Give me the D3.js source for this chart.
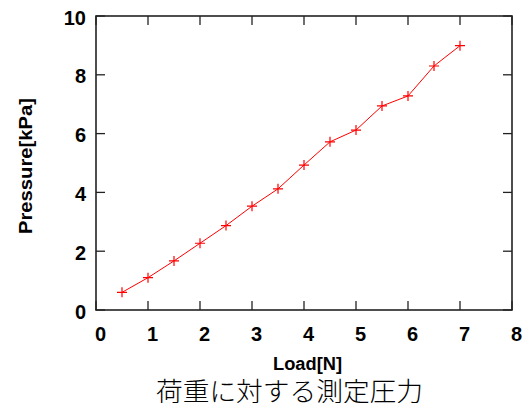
<!DOCTYPE html>
<html><head><meta charset="utf-8">
<script src="https://cdn.jsdelivr.net/npm/d3@7/dist/d3.min.js"></script>
<style>body{margin:0;background:#fff}</style>
</head><body>
<svg id="c" width="523" height="403"></svg>
<script>
const loads = [0.5,1.0,1.5,2.0,2.5,3.0,3.5,4.0,4.5,5.0,5.5,6.0,6.5,7.0];
const pressures = [0.60,1.10,1.67,2.27,2.87,3.53,4.12,4.93,5.72,6.12,6.94,7.28,8.30,8.99];
const xTicks = [0,1,2,3,4,5,6,7,8];
const yTicks = [0,2,4,6,8,10];
const xLabel = "Load[N]";
const yLabel = "Pressure[kPa]";
const title = "荷重に対する測定圧力";

const svg = d3.select("#c");
const L=96, R=512, T=16, B=310;
const x = d3.scaleLinear().domain([0,8]).range([L,R]);
const y = d3.scaleLinear().domain([0,10]).range([B,T]);
const font = "'Liberation Sans', Arial, sans-serif";

const tk = 9;
const g = svg.append("g");
xTicks.forEach(v=>{
  g.append("line").attr("x1",x(v)).attr("x2",x(v)).attr("y1",B).attr("y2",B-tk).attr("stroke","#222").attr("stroke-width",1.3);
  g.append("line").attr("x1",x(v)).attr("x2",x(v)).attr("y1",T).attr("y2",T+tk).attr("stroke","#222").attr("stroke-width",1.3);
  g.append("text").attr("x",x(v)+4.5).attr("y",341).attr("text-anchor","middle")
   .attr("font-family",font).attr("font-weight","bold").attr("font-size",20).text(v);
});
yTicks.forEach(v=>{
  g.append("line").attr("x1",L).attr("x2",L+tk).attr("y1",y(v)).attr("y2",y(v)).attr("stroke","#222").attr("stroke-width",1.3);
  g.append("line").attr("x1",R).attr("x2",R-tk).attr("y1",y(v)).attr("y2",y(v)).attr("stroke","#222").attr("stroke-width",1.3);
  g.append("text").attr("x",86).attr("y",y(v)+8.5).attr("text-anchor","end")
   .attr("font-family",font).attr("font-weight","bold").attr("font-size",20).text(v);
});
g.append("rect").attr("x",L).attr("y",T).attr("width",R-L).attr("height",B-T)
 .attr("fill","none").attr("stroke","#222").attr("stroke-width",1.6);

const pts = loads.map((d,i)=>[d,pressures[i]]);
svg.append("path").datum(pts)
  .attr("d", d3.line().x(d=>x(d[0])).y(d=>y(d[1])))
  .attr("fill","none").attr("stroke","#ff0000").attr("stroke-width",1);
const s=5;
svg.append("g").selectAll("path.m").data(pts).join("path")
  .attr("d", d=>`M${x(d[0])-s},${y(d[1])}H${x(d[0])+s}M${x(d[0])},${y(d[1])-s}V${y(d[1])+s}`)
  .attr("stroke","#ff0000").attr("stroke-width",1.2).attr("fill","none");

svg.append("text").attr("x",307.5).attr("y",370).attr("text-anchor","middle")
  .attr("font-family",font).attr("font-weight","bold").attr("font-size",18)
  .attr("textLength",69).attr("lengthAdjust","spacingAndGlyphs").text(xLabel);
svg.append("text").attr("transform",`translate(32,166) rotate(-90)`).attr("text-anchor","middle")
  .attr("font-family",font).attr("font-weight","bold").attr("font-size",18)
  .attr("textLength",136).attr("lengthAdjust","spacingAndGlyphs").text(yLabel);
svg.append("text").attr("x",289.5).attr("y",401).attr("text-anchor","middle")
  .attr("font-family","'Noto Sans CJK JP', sans-serif").attr("font-weight",300).attr("font-size",26)
  .attr("textLength",267).attr("lengthAdjust","spacingAndGlyphs").text(title);
</script>
</body></html>
